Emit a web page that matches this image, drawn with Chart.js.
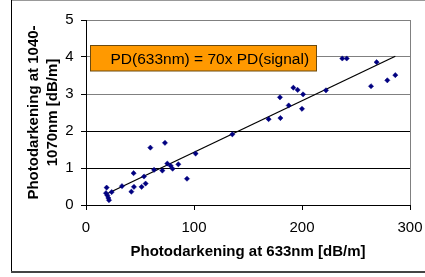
<!DOCTYPE html>
<html>
<head>
<meta charset="utf-8">
<script src="https://cdn.jsdelivr.net/npm/chart.js@4.4.0/dist/chart.umd.min.js"></script>
<style>
html,body{margin:0;padding:0;background:#fff;}
#wrap{width:425px;height:277px;position:relative;}
</style>
</head>
<body>
<div id="wrap"><canvas id="c" width="425" height="277"></canvas></div>
<script>
// Measured data: photodarkening at 633nm (x) vs at 1040-1070nm (y)
const pd633 = [18.5, 19.1, 19.8, 20.7, 21.3, 23.8, 33.3, 42.0, 44.1, 44.4, 51.5, 53.7, 55.2, 59.6, 63.0, 70.7, 73.1, 75.3, 78.4, 80.2, 85.5, 93.5, 101.5, 135.5, 169.1, 179.6, 180.0, 187.7, 192.0, 196.0, 200.0, 201.0, 222.2, 237.3, 241.4, 263.9, 269.1, 279.0, 286.4];
const pd1040 = [0.32, 0.47, 0.26, 0.19, 0.13, 0.35, 0.51, 0.36, 0.86, 0.49, 0.49, 0.77, 0.58, 1.55, 0.95, 0.93, 1.68, 1.12, 1.06, 0.98, 1.10, 0.71, 1.39, 1.91, 2.32, 2.91, 2.35, 2.69, 3.17, 3.11, 2.60, 2.99, 3.10, 3.96, 3.96, 3.21, 3.86, 3.37, 3.51];
// Linear fit line endpoints
const fitX = [18.5, 286.4];
const fitY = [0.29, 4.02];
// Axis ticks
const xTicks = [0, 100, 200, 300];
const yTicks = [0, 1, 2, 3, 4, 5];
const xTitle = 'Photodarkening at 633nm [dB/m]';
const yTitle = ['Photodarkening at 1040-', '1070nm [dB/m]'];
const boxText = 'PD(633nm) = 70x PD(signal)';

const FONT = "'Liberation Sans', Arial, sans-serif";

const framePlugin = {
  id: 'frame',
  beforeDraw(chart) {
    const ctx = chart.ctx;
    ctx.save();
    ctx.fillStyle = '#fff';
    ctx.fillRect(0, 0, chart.width, chart.height);
    // outer frame
    ctx.strokeStyle = '#999';
    ctx.lineWidth = 1;
    ctx.beginPath(); ctx.moveTo(12, 0.5); ctx.lineTo(425, 0.5); ctx.stroke();
    ctx.strokeStyle = '#000';
    ctx.beginPath(); ctx.moveTo(11.5, 0); ctx.lineTo(11.5, 272); ctx.stroke();
    ctx.strokeStyle = '#444';
    ctx.lineWidth = 2;
    ctx.beginPath(); ctx.moveTo(11, 272); ctx.lineTo(425, 272); ctx.stroke();
    ctx.restore();
  },
  afterDraw(chart) {
    const ctx = chart.ctx;
    const a = chart.chartArea;
    ctx.save();
    // plot area right border
    ctx.strokeStyle = '#808080';
    ctx.lineWidth = 1;
    ctx.beginPath(); ctx.moveTo(Math.round(a.right) + 0.5, a.top); ctx.lineTo(Math.round(a.right) + 0.5, a.bottom); ctx.stroke();
    // annotation box
    const bx = a.left + 4.5, by = 45.5, bw = 226, bh = 25.5;
    ctx.fillStyle = '#FF9900';
    ctx.fillRect(bx, by, bw, bh);
    ctx.strokeStyle = '#6b4a10';
    ctx.lineWidth = 1;
    ctx.strokeRect(bx, by, bw, bh);
    ctx.fillStyle = '#000';
    ctx.font = '15.5px ' + FONT;
    ctx.textBaseline = 'middle';
    ctx.textAlign = 'left';
    ctx.fillText(boxText, bx + 20, by + bh / 2 + 1);
    ctx.restore();
  }
};

new Chart(document.getElementById('c'), {
  type: 'scatter',
  data: {
    datasets: [
      {
        label: 'fit',
        data: fitX.map((x, i) => ({x: x, y: fitY[i]})),
        showLine: true,
        borderColor: '#000',
        borderWidth: 1.3,
        pointRadius: 0,
        fill: false,
        order: 2
      },
      {
        label: 'data',
        data: pd633.map((x, i) => ({x: x, y: pd1040[i]})),
        pointStyle: 'rectRot',
        pointRadius: 2.6,
        backgroundColor: '#000080',
        borderColor: '#000080',
        borderWidth: 0.5,
        order: 1
      }
    ]
  },
  options: {
    responsive: false,
    animation: false,
    devicePixelRatio: 1,
    layout: {padding: {left: 0, right: 15, top: 20, bottom: 0}},
    plugins: {legend: {display: false}, tooltip: {enabled: false}},
    scales: {
      x: {
        type: 'linear',
        min: 0, max: 300,
        afterBuildTicks(s) { s.ticks = xTicks.map(v => ({value: v})); },
        afterFit(s) { s.height = 72; s.paddingLeft = 0; s.paddingRight = 0; },
        grid: {drawOnChartArea: false, drawTicks: true, tickLength: 5, tickColor: '#000'},
        border: {display: true, color: '#000', width: 1},
        ticks: {color: '#000', font: {family: FONT, size: 15}, padding: 8.5, maxRotation: 0},
        title: {display: true, text: xTitle, color: '#000', font: {family: FONT, size: 15, weight: 'bold', lineHeight: 1.22}, padding: {top: 0, bottom: 15.5}}
      },
      y: {
        type: 'linear',
        min: 0, max: 5,
        afterBuildTicks(s) { s.ticks = yTicks.map(v => ({value: v})); },
        afterFit(s) { s.width = 86; s.paddingTop = 0; s.paddingBottom = 0; },
        grid: {
          drawTicks: true, tickLength: 5, tickColor: '#000',
          color: (c) => (c.tick && c.tick.value <= 2) ? '#000' : '#808080',
          lineWidth: 1
        },
        border: {display: true, color: '#000', width: 1},
        ticks: {color: '#000', font: {family: FONT, size: 15}, padding: 7.5},
        title: {display: true, text: yTitle, color: '#000', font: {family: FONT, size: 15, weight: 'bold', lineHeight: 1.22}, padding: {top: 25, bottom: 0}}
      }
    }
  },
  plugins: [framePlugin]
});
</script>
</body>
</html>
